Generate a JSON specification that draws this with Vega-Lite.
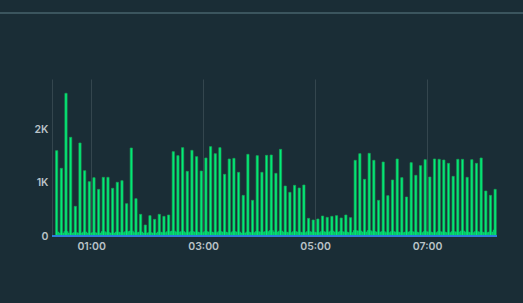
{
  "$schema": "https://vega.github.io/schema/vega-lite/v6.json",
  "width": 445,
  "height": 157,
  "autosize": {"type": "none"},
  "padding": {"left": 52, "top": 79, "right": 26, "bottom": 67},
  "background": "#1a2d36",
  "config": {
    "view": {"stroke": null},
    "axis": {"labelFont": "Inter", "labelFontWeight": 600, "labelFontSize": 10.5, "labelColor": "#b9c2c7", "gridColor": "#34464e", "gridWidth": 1, "ticks": false, "domain": false, "title": null}
  },
  "datasets": {
    "jobs": [
      {"t": "2024-01-01T00:23:00", "v": 1610, "idle": 80},
      {"t": "2024-01-01T00:28:00", "v": 1277, "idle": 60},
      {"t": "2024-01-01T00:33:00", "v": 2692, "idle": 90},
      {"t": "2024-01-01T00:38:00", "v": 1862, "idle": 60},
      {"t": "2024-01-01T00:43:00", "v": 560, "idle": 70},
      {"t": "2024-01-01T00:48:00", "v": 1755, "idle": 60},
      {"t": "2024-01-01T00:53:00", "v": 1233, "idle": 80},
      {"t": "2024-01-01T00:58:00", "v": 1025, "idle": 60},
      {"t": "2024-01-01T01:03:00", "v": 1100, "idle": 70},
      {"t": "2024-01-01T01:08:00", "v": 880, "idle": 60},
      {"t": "2024-01-01T01:13:00", "v": 1107, "idle": 90},
      {"t": "2024-01-01T01:18:00", "v": 1107, "idle": 70},
      {"t": "2024-01-01T01:23:00", "v": 900, "idle": 60},
      {"t": "2024-01-01T01:28:00", "v": 1013, "idle": 80},
      {"t": "2024-01-01T01:33:00", "v": 1044, "idle": 70},
      {"t": "2024-01-01T01:38:00", "v": 610, "idle": 90},
      {"t": "2024-01-01T01:43:00", "v": 1660, "idle": 100},
      {"t": "2024-01-01T01:48:00", "v": 704, "idle": 70},
      {"t": "2024-01-01T01:53:00", "v": 409, "idle": 80},
      {"t": "2024-01-01T01:58:00", "v": 208, "idle": 60},
      {"t": "2024-01-01T02:03:00", "v": 384, "idle": 70},
      {"t": "2024-01-01T02:08:00", "v": 314, "idle": 60},
      {"t": "2024-01-01T02:13:00", "v": 409, "idle": 80},
      {"t": "2024-01-01T02:18:00", "v": 371, "idle": 70},
      {"t": "2024-01-01T02:23:00", "v": 396, "idle": 90},
      {"t": "2024-01-01T02:28:00", "v": 1591, "idle": 100},
      {"t": "2024-01-01T02:33:00", "v": 1516, "idle": 80},
      {"t": "2024-01-01T02:38:00", "v": 1667, "idle": 90},
      {"t": "2024-01-01T02:43:00", "v": 1220, "idle": 70},
      {"t": "2024-01-01T02:48:00", "v": 1616, "idle": 90},
      {"t": "2024-01-01T02:53:00", "v": 1497, "idle": 80},
      {"t": "2024-01-01T02:58:00", "v": 1226, "idle": 70},
      {"t": "2024-01-01T03:03:00", "v": 1472, "idle": 90},
      {"t": "2024-01-01T03:08:00", "v": 1686, "idle": 80},
      {"t": "2024-01-01T03:13:00", "v": 1553, "idle": 70},
      {"t": "2024-01-01T03:18:00", "v": 1667, "idle": 90},
      {"t": "2024-01-01T03:23:00", "v": 1164, "idle": 80},
      {"t": "2024-01-01T03:28:00", "v": 1453, "idle": 70},
      {"t": "2024-01-01T03:33:00", "v": 1465, "idle": 90},
      {"t": "2024-01-01T03:38:00", "v": 1201, "idle": 80},
      {"t": "2024-01-01T03:43:00", "v": 767, "idle": 60},
      {"t": "2024-01-01T03:48:00", "v": 1541, "idle": 80},
      {"t": "2024-01-01T03:53:00", "v": 673, "idle": 70},
      {"t": "2024-01-01T03:58:00", "v": 1516, "idle": 90},
      {"t": "2024-01-01T04:03:00", "v": 1201, "idle": 80},
      {"t": "2024-01-01T04:08:00", "v": 1522, "idle": 90},
      {"t": "2024-01-01T04:13:00", "v": 1528, "idle": 110},
      {"t": "2024-01-01T04:18:00", "v": 1182, "idle": 80},
      {"t": "2024-01-01T04:23:00", "v": 1635, "idle": 100},
      {"t": "2024-01-01T04:28:00", "v": 943, "idle": 80},
      {"t": "2024-01-01T04:33:00", "v": 824, "idle": 70},
      {"t": "2024-01-01T04:38:00", "v": 956, "idle": 90},
      {"t": "2024-01-01T04:43:00", "v": 906, "idle": 80},
      {"t": "2024-01-01T04:48:00", "v": 962, "idle": 70},
      {"t": "2024-01-01T04:53:00", "v": 333, "idle": 90},
      {"t": "2024-01-01T04:58:00", "v": 302, "idle": 80},
      {"t": "2024-01-01T05:03:00", "v": 321, "idle": 70},
      {"t": "2024-01-01T05:08:00", "v": 377, "idle": 90},
      {"t": "2024-01-01T05:13:00", "v": 352, "idle": 80},
      {"t": "2024-01-01T05:18:00", "v": 371, "idle": 100},
      {"t": "2024-01-01T05:23:00", "v": 384, "idle": 80},
      {"t": "2024-01-01T05:28:00", "v": 340, "idle": 90},
      {"t": "2024-01-01T05:33:00", "v": 396, "idle": 80},
      {"t": "2024-01-01T05:38:00", "v": 346, "idle": 70},
      {"t": "2024-01-01T05:43:00", "v": 1428, "idle": 110},
      {"t": "2024-01-01T05:48:00", "v": 1553, "idle": 100},
      {"t": "2024-01-01T05:53:00", "v": 1069, "idle": 80},
      {"t": "2024-01-01T05:58:00", "v": 1560, "idle": 110},
      {"t": "2024-01-01T06:03:00", "v": 1428, "idle": 90},
      {"t": "2024-01-01T06:08:00", "v": 673, "idle": 80},
      {"t": "2024-01-01T06:13:00", "v": 1396, "idle": 90},
      {"t": "2024-01-01T06:18:00", "v": 761, "idle": 70},
      {"t": "2024-01-01T06:23:00", "v": 1057, "idle": 90},
      {"t": "2024-01-01T06:28:00", "v": 1453, "idle": 80},
      {"t": "2024-01-01T06:33:00", "v": 1101, "idle": 70},
      {"t": "2024-01-01T06:38:00", "v": 736, "idle": 80},
      {"t": "2024-01-01T06:43:00", "v": 1384, "idle": 90},
      {"t": "2024-01-01T06:48:00", "v": 1145, "idle": 80},
      {"t": "2024-01-01T06:53:00", "v": 1327, "idle": 70},
      {"t": "2024-01-01T06:58:00", "v": 1440, "idle": 90},
      {"t": "2024-01-01T07:03:00", "v": 1113, "idle": 80},
      {"t": "2024-01-01T07:08:00", "v": 1453, "idle": 70},
      {"t": "2024-01-01T07:13:00", "v": 1447, "idle": 90},
      {"t": "2024-01-01T07:18:00", "v": 1434, "idle": 80},
      {"t": "2024-01-01T07:23:00", "v": 1371, "idle": 70},
      {"t": "2024-01-01T07:28:00", "v": 1126, "idle": 90},
      {"t": "2024-01-01T07:33:00", "v": 1447, "idle": 80},
      {"t": "2024-01-01T07:38:00", "v": 1447, "idle": 100},
      {"t": "2024-01-01T07:43:00", "v": 1107, "idle": 80},
      {"t": "2024-01-01T07:48:00", "v": 1440, "idle": 70},
      {"t": "2024-01-01T07:53:00", "v": 1371, "idle": 90},
      {"t": "2024-01-01T07:58:00", "v": 1472, "idle": 80},
      {"t": "2024-01-01T08:03:00", "v": 849, "idle": 70},
      {"t": "2024-01-01T08:08:00", "v": 767, "idle": 80},
      {"t": "2024-01-01T08:13:00", "v": 880, "idle": 120}
    ]
  },
  "data": {"name": "jobs"},
  "layer": [
    {
      "mark": {"type": "rule", "color": "#3d565f", "strokeWidth": 1.5, "clip": false},
      "encoding": {
        "y": {"datum": 4208, "type": "quantitative"},
        "x": {"datum": {"year": 2023, "month": 12, "date": 31, "hours": 23, "minutes": 20}, "type": "temporal"},
        "x2": {"datum": {"year": 2024, "month": 1, "date": 1, "hours": 8, "minutes": 45}}
      }
    },
    {
      "mark": {"type": "area", "color": "#00e676", "interpolate": "step", "opacity": 0.9},
      "encoding": {
        "x": {"field": "t", "type": "temporal"},
        "y": {"field": "idle", "type": "quantitative"}
      }
    },
    {
      "mark": {"type": "bar", "size": 2.2, "color": "#00ee7a", "stroke": "#17a858", "strokeWidth": 0.7},
      "encoding": {
        "x": {
          "field": "t", "type": "temporal",
          "scale": {"padding": 0, "domain": [{"year": 2024, "month": 1, "date": 1, "hours": 0, "minutes": 18}, {"year": 2024, "month": 1, "date": 1, "hours": 8, "minutes": 15}]},
          "axis": {"format": "%H:%M", "grid": true, "values": [{"year": 2024, "month": 1, "date": 1, "hours": 1}, {"year": 2024, "month": 1, "date": 1, "hours": 3}, {"year": 2024, "month": 1, "date": 1, "hours": 5}, {"year": 2024, "month": 1, "date": 1, "hours": 7}], "labelPadding": 5, "labelFlush": false}
        },
        "y": {
          "field": "v", "type": "quantitative",
          "scale": {"domain": [0, 2962], "nice": false},
          "axis": {"values": [0, 1000, 2000], "labelExpr": "datum.value == 0 ? '0' : format(datum.value / 1000, 'd') + 'K'", "labelPadding": 4, "domain": true, "domainColor": "#34464e"}
        }
      }
    },
    {
      "mark": {"type": "rule", "color": "#2f7fd8", "strokeWidth": 1},
      "encoding": {"y": {"datum": 0, "type": "quantitative"}}
    }
  ]
}
